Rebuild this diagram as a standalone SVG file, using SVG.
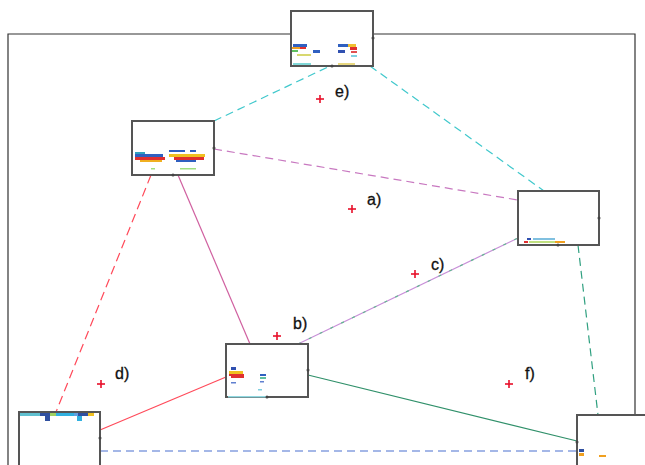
<svg xmlns="http://www.w3.org/2000/svg" width="645" height="465" viewBox="0 0 645 465">
<style>
.box{fill:#fff;stroke:#555;stroke-width:2}
.dot{fill:#444}
.lbl{font-family:"Liberation Sans",Arial,sans-serif;font-size:16px;fill:#111;stroke:#111;stroke-width:0.3}
.star{stroke:#e8102a;stroke-width:1.6}
.c{fill:none;stroke-width:1.2}
</style>
<defs>
<g id="st"><line class="star" x1="-4" y1="0" x2="4" y2="0"/><line class="star" x1="0" y1="-4" x2="0" y2="4"/></g>
</defs>
<rect width="645" height="465" fill="#fff"/>
<path d="M8,465 V34 H291 M373,34 H635 V415" fill="none" stroke="#333" stroke-width="1.2"/>
<g id="connectors">
<line class="c" x1="214" y1="121" x2="330" y2="66" stroke="#40c8cc" stroke-dasharray="8,5"/>
<line class="c" x1="370" y1="66" x2="544" y2="191" stroke="#40c8cc" stroke-dasharray="8,5"/>
<line class="c" x1="214" y1="149" x2="518" y2="200" stroke="#c878c0" stroke-dasharray="8,5"/>
<line class="c" x1="151" y1="175" x2="56" y2="412" stroke="#ff4a5a" stroke-dasharray="9,5"/>
<line class="c" x1="178" y1="175" x2="250" y2="344" stroke="#d060a0"/>
<line class="c" x1="298" y1="344" x2="518" y2="238" stroke="#c890d8"/>
<line class="c" x1="298" y1="344" x2="518" y2="238" stroke="#60b890" stroke-dasharray="3,9"/>
<line class="c" x1="226" y1="377" x2="100" y2="430" stroke="#ff4a5a"/>
<line class="c" x1="308" y1="375" x2="577" y2="441" stroke="#30906a"/>
<line class="c" x1="578" y1="245" x2="598" y2="415" stroke="#30a080" stroke-dasharray="8,5"/>
<line class="c" x1="100" y1="451" x2="577" y2="451" stroke="#4a70d0" stroke-dasharray="8,5"/>
</g>
<g id="node-top">
<rect class="box" x="291" y="11" width="82" height="55"/>
<rect x="293" y="44" width="14" height="3" fill="#3060c0"/><rect x="292" y="47" width="8" height="2" fill="#f0a020"/><rect x="300" y="47" width="6" height="2" fill="#e03030"/>
<rect x="292" y="50" width="6" height="2" fill="#60c060"/><rect x="313" y="50" width="7" height="3" fill="#3060c0"/><rect x="297" y="54" width="14" height="2" fill="#d8d870"/>
<rect x="338" y="44" width="10" height="3" fill="#3060c0"/><rect x="348" y="44" width="8" height="3" fill="#f0c030"/><rect x="350" y="47" width="7" height="3" fill="#e03030"/>
<rect x="338" y="50" width="7" height="3" fill="#3050b0"/><rect x="351" y="51" width="6" height="2" fill="#e05050"/><rect x="351" y="55" width="6" height="2" fill="#80d0e0"/>
<rect x="293" y="63" width="18" height="2" fill="#80d8d8"/><rect x="338" y="63" width="17" height="2" fill="#e8d880"/>
<circle class="dot" cx="332" cy="66" r="1.5"/><circle class="dot" cx="373" cy="38" r="1.5"/>
</g>
<g id="node-left">
<rect class="box" x="132" y="121" width="82" height="54"/>
<rect x="135" y="154" width="28" height="3" fill="#3060c0"/><rect x="135" y="157" width="30" height="3" fill="#e03030"/><rect x="140" y="160" width="22" height="2" fill="#f0b020"/>
<rect x="135" y="152" width="10" height="2" fill="#30a0c0"/>
<rect x="169" y="150" width="16" height="2" fill="#3060c0"/><rect x="190" y="150" width="6" height="2" fill="#3060c0"/>
<rect x="169" y="154" width="36" height="3" fill="#f0c020"/><rect x="174" y="157" width="30" height="3" fill="#e03030"/><rect x="176" y="160" width="20" height="2" fill="#3060c0"/>
<rect x="151" y="168" width="4" height="1.5" fill="#a0e080"/><rect x="180" y="168" width="16" height="1.5" fill="#a0e080"/>
<circle class="dot" cx="173" cy="175" r="1.5"/><circle class="dot" cx="214" cy="148" r="1.5"/>
</g>
<g id="node-right">
<rect class="box" x="518" y="191" width="81" height="54"/>
<rect x="527" y="238" width="4" height="2" fill="#3050b0"/><rect x="533" y="238" width="22" height="2" fill="#80c0e0"/>
<rect x="524" y="241" width="4" height="2" fill="#e03030"/><rect x="529" y="241" width="26" height="2" fill="#c0e080"/><rect x="555" y="241" width="10" height="2" fill="#f0a020"/>
<circle class="dot" cx="558" cy="245" r="1.5"/><circle class="dot" cx="599" cy="218" r="1.5"/>
</g>
<g id="node-center">
<rect class="box" x="226" y="344" width="82" height="53"/>
<rect x="231" y="367" width="5" height="3" fill="#3050b0"/><rect x="229" y="371" width="14" height="3" fill="#f0c020"/>
<rect x="229" y="374" width="15" height="2" fill="#e03030"/><rect x="231" y="376" width="13" height="2" fill="#e03030"/><rect x="231" y="382" width="5" height="1.5" fill="#6080d0"/>
<rect x="260" y="374" width="6" height="2" fill="#3060c0"/><rect x="260" y="377" width="6" height="2" fill="#60c0a0"/><rect x="260" y="381" width="4" height="1.5" fill="#6080d0"/>
<rect x="258" y="389" width="4" height="1.5" fill="#80d0e0"/>
<rect x="228" y="396" width="38" height="1.5" fill="#90d8e0"/>
<circle class="dot" cx="267" cy="397" r="1.5"/><circle class="dot" cx="308" cy="370" r="1.5"/>
</g>
<g id="node-bottomleft">
<rect class="box" x="19" y="412" width="81" height="60"/>
<rect x="20" y="413" width="20" height="3" fill="#60c0d0"/><rect x="40" y="413" width="10" height="3" fill="#3050a0"/><rect x="50" y="413" width="6" height="3" fill="#a0d060"/>
<rect x="56" y="413" width="18" height="3" fill="#30b0e0"/><rect x="74" y="413" width="4" height="3" fill="#60a0e0"/><rect x="78" y="413" width="10" height="3" fill="#3050a0"/><rect x="88" y="413" width="6" height="3" fill="#f0c020"/>
<rect x="45" y="416" width="5" height="5" fill="#3050a0"/><rect x="77" y="416" width="5" height="5" fill="#30b0e0"/>
<circle class="dot" cx="100" cy="438" r="1.5"/>
</g>
<g id="node-bottomright">
<rect class="box" x="577" y="415" width="80" height="60"/>
<rect x="579" y="449" width="5" height="3" fill="#3050a0"/><rect x="579" y="453" width="5" height="3" fill="#f0a020"/><rect x="599" y="455" width="7" height="2" fill="#f0a020"/>
<circle class="dot" cx="577" cy="442" r="1.5"/>
</g>
<g id="labels">
<use href="#st" x="320" y="99"/><text class="lbl" x="335" y="97">e)</text>
<use href="#st" x="352" y="209"/><text class="lbl" x="367" y="205">a)</text>
<use href="#st" x="415" y="274"/><text class="lbl" x="431" y="270">c)</text>
<use href="#st" x="277" y="336"/><text class="lbl" x="293" y="329">b)</text>
<use href="#st" x="101" y="384"/><text class="lbl" x="115" y="379">d)</text>
<use href="#st" x="509" y="384"/><text class="lbl" x="525" y="379">f)</text>
</g>
</svg>
